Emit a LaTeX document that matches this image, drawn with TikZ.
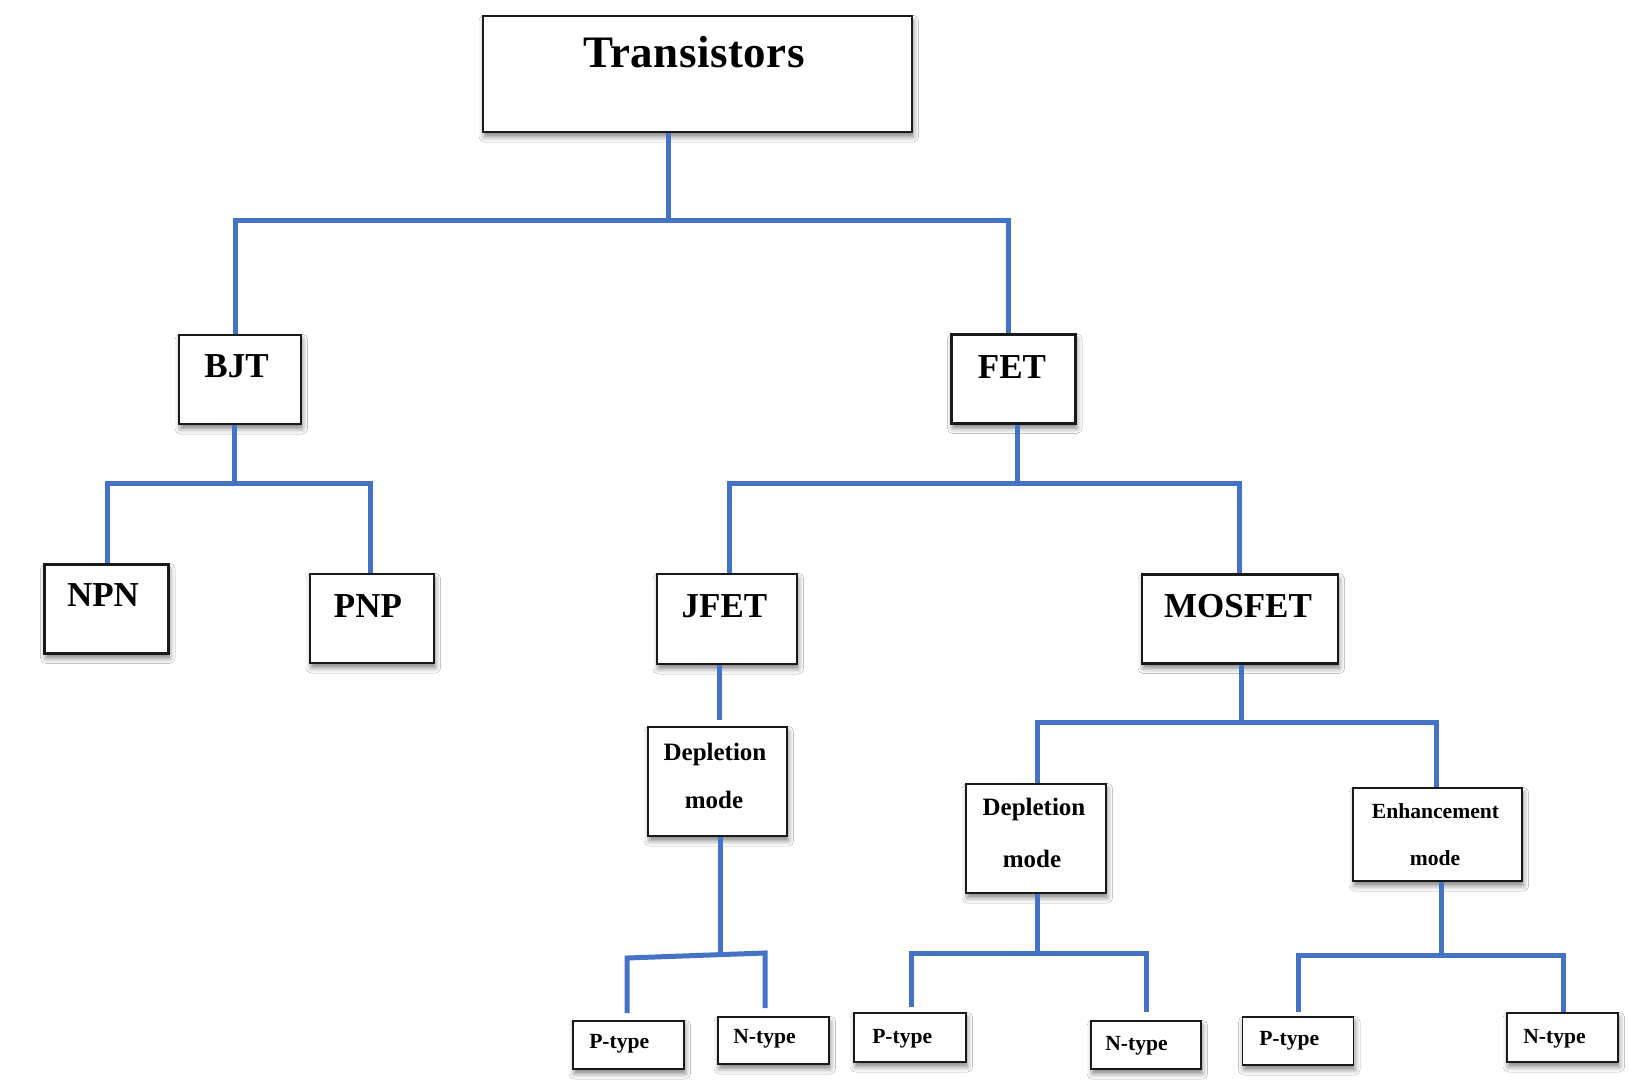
\documentclass[tikz,border=0pt]{standalone}
\usepackage{fontspec}
\setmainfont{Liberation Serif}
\usetikzlibrary{shadows.blur}
\definecolor{conncol}{RGB}{68,114,196}
\definecolor{edgecol}{RGB}{25,25,25}
\begin{document}
\begin{tikzpicture}[x=0.75pt,y=-0.75pt,
  sz/.style 2 args={minimum width=#1*0.75pt, minimum height=#2*0.75pt},
  boxbase/.style={draw=edgecol, fill=white, inner sep=0pt,
    blur shadow={shadow xshift=1pt, shadow yshift=-3.5pt, shadow blur radius=4pt, shadow opacity=50}},
  bigbox/.style={boxbase, line width=2.1pt},
  midbox/.style={boxbase, line width=1.7pt},
  smallbox/.style={boxbase, line width=1.2pt},
  conn/.style={draw=conncol, line width=3.75pt, line join=miter},
  lbl/.style={inner sep=0pt, anchor=base, font=\bfseries},
  lblw/.style={inner sep=0pt, anchor=base west, font=\bfseries}
]
\path[use as bounding box, fill=white] (0,0) rectangle (1629,1081);

% ---------- boxes ----------
\node[bigbox, sz={429}{116}] (T) at (697.5,74) {};
\node[midbox, sz={122}{89}] (bjt) at (240,379.5) {};
\node[midbox, sz={124}{89}] (fet) at (1013.5,379) {};
\node[midbox, sz={124}{89}] (npn) at (106.5,609) {};
\node[midbox, sz={124}{89}] (pnp) at (372,618.5) {};
\node[midbox, sz={140}{90}] (jfet) at (727,619) {};
\node[midbox, sz={196}{89}] (mos) at (1240,619) {};
\node[smallbox, sz={139}{109}] (depj) at (717.5,781.5) {};
\node[smallbox, sz={140}{109}] (depm) at (1036,838.5) {};
\node[smallbox, sz={169}{93}] (enh) at (1437.5,834.5) {};
\node[smallbox, sz={111}{48}] (p1) at (628.5,1045) {};
\node[smallbox, sz={111}{47}] (n1) at (773.5,1040.5) {};
\node[smallbox, sz={112}{49}] (p2) at (910,1037.5) {};
\node[smallbox, sz={110}{48}] (n2) at (1146,1045) {};
\node[smallbox, sz={111}{48}] (p3) at (1298,1041) {};
\node[smallbox, sz={111}{49}] (n3) at (1562.5,1037.5) {};

% ---------- labels ----------
\node[lbl, font=\fontsize{33.75}{40}\bfseries\addfontfeature{LetterSpace=1}] (tT) at (694,68) {Transistors};
\node[lbl, font=\fontsize{26.25}{30}\bfseries] (tbjt) at (236.5,377) {BJT};
\node[lbl, font=\fontsize{26.25}{30}\bfseries] (tfet) at (1012,378) {FET};
\node[lbl, font=\fontsize{26.25}{30}\bfseries] (tnpn) at (103,606) {NPN};
\node[lbl, font=\fontsize{26.25}{30}\bfseries] (tpnp) at (368,617) {PNP};
\node[lbl, font=\fontsize{26.25}{30}\bfseries] (tjfet) at (724.5,617) {JFET};
\node[lbl, font=\fontsize{26.25}{30}\bfseries] (tmos) at (1238,617) {MOSFET};
\node[lbl, font=\fontsize{18.75}{22}\bfseries] (tdj1) at (715,760) {Depletion};
\node[lbl, font=\fontsize{18.75}{22}\bfseries] (tdj2) at (714,808) {mode};
\node[lbl, font=\fontsize{18.75}{22}\bfseries] (tdm1) at (1034,815) {Depletion};
\node[lbl, font=\fontsize{18.75}{22}\bfseries] (tdm2) at (1032,867) {mode};
\node[lbl, font=\fontsize{16.2}{20}\bfseries] (te1) at (1435.5,818) {Enhancement};
\node[lbl, font=\fontsize{16.2}{20}\bfseries] (te2) at (1435,865) {mode};
\node[lblw, font=\fontsize{16.2}{20}\bfseries] (tp1) at (589,1048) {P-type};
\node[lblw, font=\fontsize{16.2}{20}\bfseries] (tn1) at (733,1043) {N-type};
\node[lblw, font=\fontsize{16.2}{20}\bfseries] (tp2) at (872,1043) {P-type};
\node[lblw, font=\fontsize{16.2}{20}\bfseries] (tn2) at (1105,1050) {N-type};
\node[lblw, font=\fontsize{16.2}{20}\bfseries] (tp3) at (1259,1045) {P-type};
\node[lblw, font=\fontsize{16.2}{20}\bfseries] (tn3) at (1523,1043) {N-type};

% ---------- junction coordinates ----------
\coordinate (j0) at (668,220);
\coordinate (j0L) at (235,220);
\coordinate (j0R) at (1008,220);
\coordinate (j1) at (234,483);
\coordinate (j1L) at (107,483);
\coordinate (j1R) at (370,483);
\coordinate (j2) at (1017,483);
\coordinate (j2L) at (729,483);
\coordinate (j2R) at (1239,483);
\coordinate (j3) at (719,720);
\coordinate (j4) at (720,953);
\coordinate (j4L) at (627,958);
\coordinate (j4R) at (765,953);
\coordinate (j4Le) at (627,1013);
\coordinate (j4Re) at (765,1008);
\coordinate (j5) at (1241,722);
\coordinate (j5L) at (1037,722);
\coordinate (j5R) at (1436,722);
\coordinate (j6) at (1037,953);
\coordinate (j6L) at (911,953);
\coordinate (j6R) at (1146,953);
\coordinate (j6Le) at (911,1007);
\coordinate (j6Re) at (1146,1012);
\coordinate (j7) at (1441,955);
\coordinate (j7L) at (1298,955);
\coordinate (j7R) at (1563,955);
\coordinate (j7Le) at (1298,1012);
\coordinate (j7Re) at (1563,1012);

% ---------- connectors ----------
\draw[conn] (T.south -| j0) -- (j0);
\draw[conn] (bjt.north -| j0L) -- (j0L) -- (j0R) -- (fet.north -| j0R);

\draw[conn] (bjt.south -| j1) -- (j1);
\draw[conn] (npn.north -| j1L) -- (j1L) -- (j1R) -- (pnp.north -| j1R);

\draw[conn] (fet.south -| j2) -- (j2);
\draw[conn] (jfet.north -| j2L) -- (j2L) -- (j2R) -- (mos.north -| j2R);

\draw[conn] (jfet.south -| j3) -- (j3);

\draw[conn] (depj.south -| j4) -- (j4);
\draw[conn] (j4Le) -- (j4L) -- (j4R) -- (j4Re);

\draw[conn] (mos.south -| j5) -- (j5);
\draw[conn] (depm.north -| j5L) -- (j5L) -- (j5R) -- (enh.north -| j5R);

\draw[conn] (depm.south -| j6) -- (j6);
\draw[conn] (j6Le) -- (j6L) -- (j6R) -- (j6Re);

\draw[conn] (enh.south -| j7) -- (j7);
\draw[conn] (j7Le) -- (j7L) -- (j7R) -- (j7Re);
\end{tikzpicture}
\end{document}
